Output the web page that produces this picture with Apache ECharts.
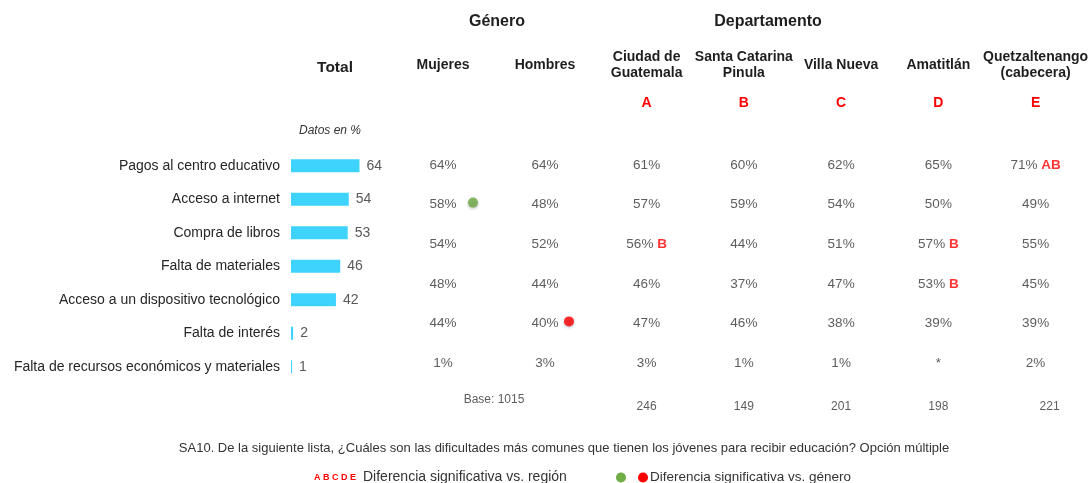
<!DOCTYPE html>
<html>
<head>
<meta charset="utf-8">
<script src="https://cdn.jsdelivr.net/npm/echarts@6/dist/echarts.min.js"></script>
<style>
  html, body { margin: 0; padding: 0; background: #fff; }
  #chart { width: 1091px; height: 483px; }
</style>
</head>
<body>
<div id="chart"></div>
<script>
  // datos
  var categories = [
    'Pagos al centro educativo',
    'Acceso a internet',
    'Compra de libros',
    'Falta de materiales',
    'Acceso a un dispositivo tecnológico',
    'Falta de interés',
    'Falta de recursos económicos y materiales'
  ];
  var totals = [64, 54, 53, 46, 42, 2, 1];

  var generoCols = ['Mujeres', 'Hombres'];
  var mujeres = [64, 58, 54, 48, 44, 1];
  var hombres = [64, 48, 52, 44, 40, 3];
  var generoDots = [
    { col: 0, row: 1, color: '#70AD47' },
    { col: 1, row: 4, color: '#FF0000' }
  ];

  var deptoCols = ['Ciudad de\nGuatemala', 'Santa Catarina\nPinula', 'Villa Nueva', 'Amatitlán', 'Quetzaltenango\n(cabecera)'];
  var deptoLetters = ['A', 'B', 'C', 'D', 'E'];
  var ciudad = [61, 57, 56, 46, 47, 3];
  var santa = [60, 59, 44, 37, 46, 1];
  var villa = [62, 54, 51, 47, 38, 1];
  var amatitlan = [65, 50, 57, 53, 39, null];
  var quetzal = [71, 49, 55, 45, 39, 2];
  var ciudadSig = ['', '', 'B', '', '', ''];
  var santaSig = ['', '', '', '', '', ''];
  var villaSig = ['', '', '', '', '', ''];
  var amatitlanSig = ['', '', 'B', 'B', '', ''];
  var quetzalSig = ['AB', '', '', '', '', ''];

  var baseTotal = 1015;
  var deptoBases = [246, 149, 201, 198, 221];

  var FONT = "'Liberation Sans', Arial, sans-serif";
  var txt = '#333333';
  var baseRow = 6;

  function cells(cols, sigs) {
    var out = [];
    cols.forEach(function (vals, c) {
      vals.forEach(function (v, r) {
        out.push({ value: [c, r], txt: v === null ? '*' : v + '%', sig: sigs ? sigs[c][r] : '' });
      });
    });
    return out;
  }

  var cellLabel = {
    show: true,
    position: 'inside',
    fontFamily: FONT,
    fontSize: 13.5,
    color: txt,
    formatter: function (p) {
      return p.data.sig ? p.data.txt + ' {s|' + p.data.sig + '}' : p.data.txt;
    },
    rich: { s: { color: '#FF0000', fontWeight: 'bold', fontSize: 13.5, fontFamily: FONT } }
  };

  var chart = echarts.init(document.getElementById('chart'));

  var option = {
    animation: false,
    textStyle: { fontFamily: FONT },
    grid: [
      { left: 291, top: 149, width: 107, height: 234.5 },
      { left: 392, top: 145.2, width: 204, height: 277.2 },
      { left: 598, top: 145.2, width: 487.5, height: 277.2 }
    ],
    xAxis: [
      { gridIndex: 0, type: 'value', min: 0, max: 100, show: false },
      {
        gridIndex: 1, type: 'category', position: 'top', data: generoCols,
        axisLine: { show: false }, axisTick: { show: false },
        axisLabel: {
          margin: 64, interval: 0,
          formatter: function (v) { return '{h|' + v + '}'; },
          rich: { h: { fontFamily: FONT, fontSize: 14, fontWeight: 'bold', color: '#1e1e1e', lineHeight: 32 } }
        }
      },
      { gridIndex: 1, type: 'value', min: -0.5, max: 1.5, show: false },
      {
        gridIndex: 2, type: 'category', position: 'top', data: deptoCols,
        axisLine: { show: false }, axisTick: { show: false },
        axisLabel: {
          margin: 20, interval: 0,
          formatter: function (v, i) {
            var parts = v.split('\n');
            var head = parts.length > 1
              ? parts.map(function (p) { return '{h|' + p + '}'; }).join('\n')
              : '{hh|' + v + '}';
            return head + '\n{l|' + deptoLetters[i] + '}';
          },
          rich: {
            h: { fontFamily: FONT, fontSize: 14, fontWeight: 'bold', color: '#1e1e1e', lineHeight: 16 },
            hh: { fontFamily: FONT, fontSize: 14, fontWeight: 'bold', color: '#1e1e1e', lineHeight: 32 },
            l: { fontFamily: FONT, fontSize: 14, fontWeight: 'bold', color: '#FF0000', lineHeight: 44 }
          }
        }
      },
      { gridIndex: 2, type: 'value', min: -0.5, max: 4.5, show: false }
    ],
    yAxis: [
      {
        gridIndex: 0, type: 'category', inverse: true, data: categories,
        axisLine: { show: false }, axisTick: { show: false },
        axisLabel: { margin: 11, fontFamily: FONT, fontSize: 14, color: '#262626' }
      },
      { gridIndex: 1, type: 'value', inverse: true, min: -0.5, max: 6.5, show: false },
      { gridIndex: 2, type: 'value', inverse: true, min: -0.5, max: 6.5, show: false }
    ],
    graphic: [
      { type: 'text', x: 335, y: 68, style: { text: 'Total', fill: '#1e1e1e', font: 'bold 15.5px ' + FONT, align: 'center', verticalAlign: 'middle' } },
      { type: 'text', x: 330, y: 131, style: { text: 'Datos en %', fill: '#333', font: 'italic 12px ' + FONT, align: 'center', verticalAlign: 'middle' } },
      { type: 'text', x: 497, y: 22, style: { text: 'Género', fill: '#1e1e1e', font: 'bold 16px ' + FONT, align: 'center', verticalAlign: 'middle' } },
      { type: 'text', x: 768, y: 22, style: { text: 'Departamento', fill: '#1e1e1e', font: 'bold 16px ' + FONT, align: 'center', verticalAlign: 'middle' } },
      { type: 'text', x: 564, y: 448, style: { text: 'SA10. De la siguiente lista, ¿Cuáles son las dificultades más comunes que tienen los jóvenes para recibir educación? Opción múltiple', fill: '#333', font: '13px ' + FONT, align: 'center', verticalAlign: 'middle' } },
      { type: 'text', x: 314, y: 478, style: { text: 'A B C D E', fill: '#FF0000', font: 'bold 9px ' + FONT, align: 'left', verticalAlign: 'middle' } },
      { type: 'text', x: 363, y: 477, style: { text: 'Diferencia significativa vs. región', fill: '#333', font: '14px ' + FONT, align: 'left', verticalAlign: 'middle' } },
      { type: 'circle', shape: { cx: 621, cy: 477.5, r: 5 }, style: { fill: '#70AD47' } },
      { type: 'circle', shape: { cx: 643, cy: 477.5, r: 5 }, style: { fill: '#FF0000' } },
      { type: 'text', x: 650, y: 477, style: { text: 'Diferencia significativa vs. género', fill: '#333', font: '13.5px ' + FONT, align: 'left', verticalAlign: 'middle' } }
    ],
    series: [
      {
        type: 'bar', xAxisIndex: 0, yAxisIndex: 0, data: totals, barWidth: 13,
        itemStyle: { color: '#3DD3FD' },
        label: { show: true, position: 'right', distance: 7, fontFamily: FONT, fontSize: 14, color: '#595959' }
      },
      {
        type: 'scatter', xAxisIndex: 2, yAxisIndex: 1, symbolSize: 1,
        itemStyle: { color: 'rgba(0,0,0,0)' },
        data: cells([mujeres, hombres], null),
        label: cellLabel
      },
      {
        type: 'scatter', xAxisIndex: 2, yAxisIndex: 1, symbolSize: 10,
        data: generoDots.map(function (d) {
          return {
            value: [d.col, d.row],
            symbolOffset: [d.col === 0 ? 30 : 24, -2],
            itemStyle: { color: d.color, shadowBlur: 3, shadowColor: 'rgba(0,0,0,0.35)', shadowOffsetY: 1 }
          };
        })
      },
      {
        type: 'scatter', xAxisIndex: 2, yAxisIndex: 1, symbolSize: 1,
        itemStyle: { color: 'rgba(0,0,0,0)' },
        data: [{ value: [0.5, baseRow], txt: 'Base: ' + baseTotal, sig: '' }],
        label: Object.assign({}, cellLabel, { fontSize: 12, offset: [0, -3] })
      },
      {
        type: 'scatter', xAxisIndex: 4, yAxisIndex: 2, symbolSize: 1,
        itemStyle: { color: 'rgba(0,0,0,0)' },
        data: cells([ciudad, santa, villa, amatitlan, quetzal], [ciudadSig, santaSig, villaSig, amatitlanSig, quetzalSig]),
        label: cellLabel
      },
      {
        type: 'scatter', xAxisIndex: 4, yAxisIndex: 2, symbolSize: 1,
        itemStyle: { color: 'rgba(0,0,0,0)' },
        data: deptoBases.map(function (b, c) {
          var d = { value: [c, baseRow], txt: String(b), sig: '' };
          if (c === deptoBases.length - 1) d.label = { offset: [14, 4] };
          return d;
        }),
        label: Object.assign({}, cellLabel, {
          fontSize: 12, offset: [0, 4],
          formatter: function (p) { return p.data.txt; }
        })
      }
    ]
  };

  chart.setOption(option);
</script>
</body>
</html>
